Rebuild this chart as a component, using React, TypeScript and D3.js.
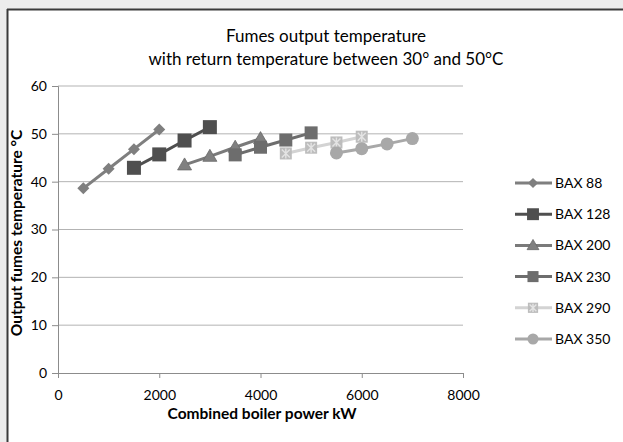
import { useRef, useEffect } from 'react';
import * as d3 from 'd3';

const seriesNames = ['BAX 88', 'BAX 128', 'BAX 200', 'BAX 230', 'BAX 290', 'BAX 350'];
const bax88 = [[500, 38.6], [1000, 42.7], [1500, 46.8], [2000, 50.9]];
const bax128 = [[1500, 42.9], [2000, 45.7], [2500, 48.6], [3000, 51.4]];
const bax200 = [[2500, 43.5], [3000, 45.3], [3500, 47.2], [4000, 49.0]];
const bax230 = [[3500, 45.6], [4000, 47.2], [4500, 48.7], [5000, 50.2]];
const bax290 = [[4500, 45.9], [5000, 47.1], [5500, 48.2], [6000, 49.4]];
const bax350 = [[5500, 46.0], [6000, 46.9], [6500, 47.9], [7000, 49.0]];
const xTicks = [0, 2000, 4000, 6000, 8000];
const yTicks = [0, 10, 20, 30, 40, 50, 60];

const seriesData = [bax88, bax128, bax200, bax230, bax290, bax350];
const lineColors = ['#7f7f7f', '#4f4f4f', '#7a7a7a', '#6d6d6d', '#d3d3d3', '#a8a8a8'];
const markerColors = ['#7f7f7f', '#4f4f4f', '#808080', '#6d6d6d', '#bdbdbd', '#a8a8a8'];
const markerKinds = ['diamond', 'square', 'triangle', 'square', 'xsquare', 'circle'];

const W = 623;
const H = 442;
const margin = { left: 58, right: 160, top: 86, bottom: 69 };
const font = 'Lato, "Open Sans", sans-serif';

function Marker({ kind, x, y, color, k = 1 }: { kind: string; x: number; y: number; color: string; k?: number }) {
  if (kind === 'diamond') {
    const r = 6 * k;
    return <path d={`M${x},${y - r}L${x + r},${y}L${x},${y + r}L${x - r},${y}Z`} fill={color} />;
  }
  if (kind === 'triangle') {
    return <path d={`M${x},${y - 7 * k}L${x + 7 * k},${y + 5 * k}L${x - 7 * k},${y + 5 * k}Z`} fill={color} stroke='#6a6a6a' strokeWidth={0.8} />;
  }
  if (kind === 'circle') {
    return <circle cx={x} cy={y} r={6.5 * k} fill={color} />;
  }
  if (kind === 'xsquare') {
    const r = 6 * k;
    const q = 4 * k;
    return (
      <g>
        <rect x={x - r} y={y - r} width={r * 2} height={r * 2} fill={color} />
        <path d={`M${x - q},${y - q}L${x + q},${y + q}M${x + q},${y - q}L${x - q},${y + q}M${x},${y - r + 1}L${x},${y + r - 1}`} stroke='#e4e4e4' strokeWidth={1.4} />
      </g>
    );
  }
  const s = (color === '#4f4f4f' ? 7 : 6.5) * k;
  return <rect x={x - s} y={y - s} width={s * 2} height={s * 2} fill={color} />;
}

export default function App() {
  const gx = useRef<SVGGElement>(null);
  const gy = useRef<SVGGElement>(null);

  const x = d3.scaleLinear([0, 8000], [margin.left, W - margin.right]);
  const y = d3.scaleLinear([0, 60], [H - margin.bottom, margin.top]);
  const line = d3.line<number[]>().x(d => x(d[0])).y(d => y(d[1]));

  useEffect(() => {
    if (gx.current) {
      const g = d3.select(gx.current);
      g.call(d3.axisBottom(x).tickValues(xTicks).tickSize(5).tickPadding(12).tickFormat(d3.format('.0f')));
      g.selectAll('path, line').attr('stroke', '#8c8c8c');
      g.selectAll('text').attr('font-family', font).attr('font-size', 14).attr('fill', '#000');
    }
    if (gy.current) {
      const g = d3.select(gy.current);
      g.call(d3.axisLeft(y).tickValues(yTicks).tickSize(6).tickPadding(5));
      g.selectAll('path, line').attr('stroke', '#8c8c8c');
      g.selectAll('text').attr('font-family', font).attr('font-size', 14).attr('fill', '#000');
    }
  }, [x, y]);

  const legendY = d3.scalePoint(seriesNames, [183, 339]);

  return (
    <svg width={W} height={H} style={{ position: 'absolute', left: 0, top: 0 }}>
      <rect x={0} y={0} width={W} height={H} fill='#ececec' />
      <rect x={7} y={9} width={W} height={H} fill='#fff' />
      <line x1={7} y1={9.5} x2={W} y2={9.5} stroke='#3a3a3a' strokeWidth={2} />
      <line x1={7.5} y1={9} x2={7.5} y2={H} stroke='#3a3a3a' strokeWidth={2} />

      <text x={326} y={42} textAnchor='middle' fontFamily={font} fontSize={17}>Fumes output temperature</text>
      <text x={326} y={65} textAnchor='middle' fontFamily={font} fontSize={17}>with return temperature between 30° and 50°C</text>

      {yTicks.slice(1).map(t => (
        <line key={t} x1={x(0)} x2={x(8000)} y1={y(t)} y2={y(t)} stroke='#b3b3b3' />
      ))}
      <g ref={gy} transform={`translate(${margin.left}, 0)`} />
      <g ref={gx} transform={`translate(0, ${H - margin.bottom})`} />

      <text x={262} y={419} textAnchor='middle' fontFamily={font} fontSize={15.5} fontWeight='bold'>Combined boiler power kW</text>
      <text transform={`translate(22, 233) rotate(-90)`} textAnchor='middle' fontFamily={font} fontSize={15.5} fontWeight='bold'>Output fumes temperature °C</text>

      {seriesData.map((s, i) => (
        <g key={seriesNames[i]}>
          <path d={line(s) ?? ''} fill='none' stroke={lineColors[i]} strokeWidth={3} />
          {s.map((d, j) => (
            <Marker key={j} kind={markerKinds[i]} x={x(d[0])} y={y(d[1])} color={markerColors[i]} />
          ))}
        </g>
      ))}

      {seriesNames.map((name, i) => {
        const ly = legendY(name) ?? 0;
        return (
          <g key={name}>
            <line x1={515} x2={552} y1={ly} y2={ly} stroke={lineColors[i]} strokeWidth={3} />
            <Marker kind={markerKinds[i]} x={533} y={ly} color={markerColors[i]} k={0.85} />
            <text x={555} y={ly + 5} fontFamily={font} fontSize={14}>{name}</text>
          </g>
        );
      })}
    </svg>
  );
}
